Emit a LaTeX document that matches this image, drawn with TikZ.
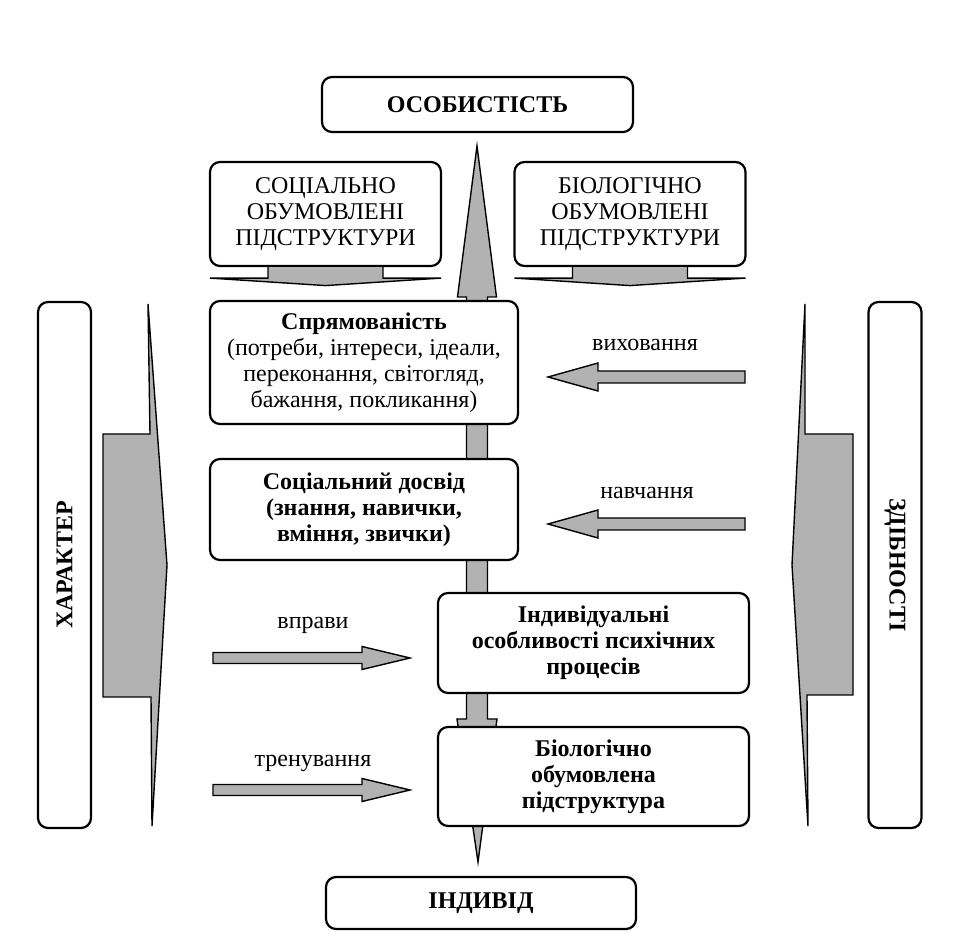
\documentclass[tikz,border=0pt]{standalone}
\usepackage{fontspec}
\setmainfont{Liberation Serif}
\definecolor{arrowgray}{gray}{0.7}
\tikzset{>=latex}

\begin{document}
\begin{tikzpicture}[x=5pt,y=5pt]
	\tikzstyle{rbox} = [draw=black, line width=1.1pt, rounded corners=5pt, fill=white, align=center, inner sep=2pt, font=\fontsize{12}{13}\selectfont]
	\tikzstyle{sidebox} = [rbox, minimum width=263pt, minimum height=26.5pt]
	\tikzstyle{garrow} = [draw=black, line width=0.7pt, fill=arrowgray]
	\tikzstyle{lbl} = [font=\fontsize{12}{13}\selectfont]

	\useasboundingbox (0,0) rectangle (95.5,94.4);
	\fill[white] (0,0) rectangle (95.5,94.4);

%----------Бокові стрілки------------------------------------
	\draw[garrow] (14.8,64.0) -- (16.7,37.9) -- (15.2,11.8) -- (15.1,24.7) -- (10.3,24.7) -- (10.3,51.0) -- (15.0,51.0) -- cycle;
	\draw[garrow] (80.5,64.0) -- (79.2,37.9) -- (80.8,11.8) -- (80.7,24.9) -- (85.3,24.9) -- (85.3,51.0) -- (80.5,51.0) -- cycle;

	%Центральна
	\draw[garrow] (47.7,79.8) -- (49.65,64.7) -- (48.75,64.7) -- (48.75,22.5) -- (49.7,22.5) -- (47.8,8.2)
		-- (45.7,22.5) -- (46.65,22.5) -- (46.65,64.7) -- (45.75,64.7) -- cycle;

%----------Вершина-------------------------------------------
	\node[rbox, minimum width=155.5pt, minimum height=27.5pt] (osob) at (47.75,83.95) {\textbf{ОСОБИСТІСТЬ}};

	\node[rbox, minimum width=115.5pt, minimum height=52pt] (socpid) at (32.55,73.0) {СОЦІАЛЬНО\\ОБУМОВЛЕНІ\\ПІДСТРУКТУРИ};
	\node[rbox, minimum width=115.5pt, minimum height=52pt] (biopid) at (63.0,73.0) {БІОЛОГІЧНО\\ОБУМОВЛЕНІ\\ПІДСТРУКТУРИ};

	\draw[garrow] (socpid.south) ++(-5.75,0) -- ++(0,-1.1) -- ++(-5.8,0) -- ++(11.55,-0.75) -- ++(11.55,0.75) -- ++(-5.8,0) -- ++(0,1.1);
	\draw[garrow] (biopid.south) ++(-5.75,0) -- ++(0,-1.1) -- ++(-5.8,0) -- ++(11.55,-0.75) -- ++(11.55,0.75) -- ++(-5.8,0) -- ++(0,1.1);

%----------Підструктури--------------------------------------
	\node[rbox, minimum width=154pt, minimum height=61.5pt] (spryam) at (36.4,58.15)
		{\textbf{Спрямованість}\\(потреби, інтереси, ідеали,\\переконання, світогляд,\\бажання, покликання)};
	\node[rbox, minimum width=154pt, minimum height=50.5pt, font=\fontsize{12}{13}\selectfont\bfseries] (dosvid) at (36.4,43.45)
		{Соціальний досвід\\(знання, навички,\\вміння, звички)};
	\node[rbox, minimum width=155.5pt, minimum height=50pt, font=\fontsize{12}{13}\selectfont\bfseries] (indyv) at (59.35,30.1)
		{Індивідуальні\\особливості психічних\\процесів};
	\node[rbox, minimum width=155.5pt, minimum height=49.5pt, font=\fontsize{12}{13}\selectfont\bfseries] (biostr) at (59.35,16.75)
		{Біологічно\\обумовлена\\підструктура};

	\node[rbox, minimum width=155pt, minimum height=26pt] (indyvid) at (48.1,4.1) {\textbf{ІНДИВІД}};

%----------Характер і здібності------------------------------
	\node[sidebox, rotate=90] (kharakter) at (6.45,37.9) {\textbf{ХАРАКТЕР}};
	\node[sidebox, rotate=-90] (zdibn) at (89.5,37.9) {\textbf{ЗДІБНОСТІ}};

%----------Впливи--------------------------------------------
	\coordinate (vykh) at (54.8,56.7);
	\coordinate (navch) at (54.8,42.0);
	\coordinate (vpr) at (41.0,28.6);
	\coordinate (tren) at (41.0,15.4);

	\draw[garrow] (vykh) -- ++(5,1.4) -- ++(0,-0.8) -- ++(14.7,0) -- ++(0,-1.2) -- ++(-14.7,0) -- ++(0,-0.8) -- cycle;
	\draw[garrow] (navch) -- ++(5,1.4) -- ++(0,-0.8) -- ++(14.7,0) -- ++(0,-1.2) -- ++(-14.7,0) -- ++(0,-0.8) -- cycle;
	\draw[garrow] (vpr) -- ++(-4.8,1.15) -- ++(0,-0.6) -- ++(-14.9,0) -- ++(0,-1.1) -- ++(14.9,0) -- ++(0,-0.6) -- cycle;
	\draw[garrow] (tren) -- ++(-4.8,1.15) -- ++(0,-0.6) -- ++(-14.9,0) -- ++(0,-1.1) -- ++(14.9,0) -- ++(0,-0.6) -- cycle;

	\node[lbl] (lvykh) at (64.5,59.9) {виховання};
	\node[lbl] (lnavch) at (64.7,45.1) {навчання};
	\node[lbl] (lvpr) at (31.3,31.9) {вправи};
	\node[lbl] (ltren) at (31.3,18.1) {тренування};

\end{tikzpicture}
\end{document}
